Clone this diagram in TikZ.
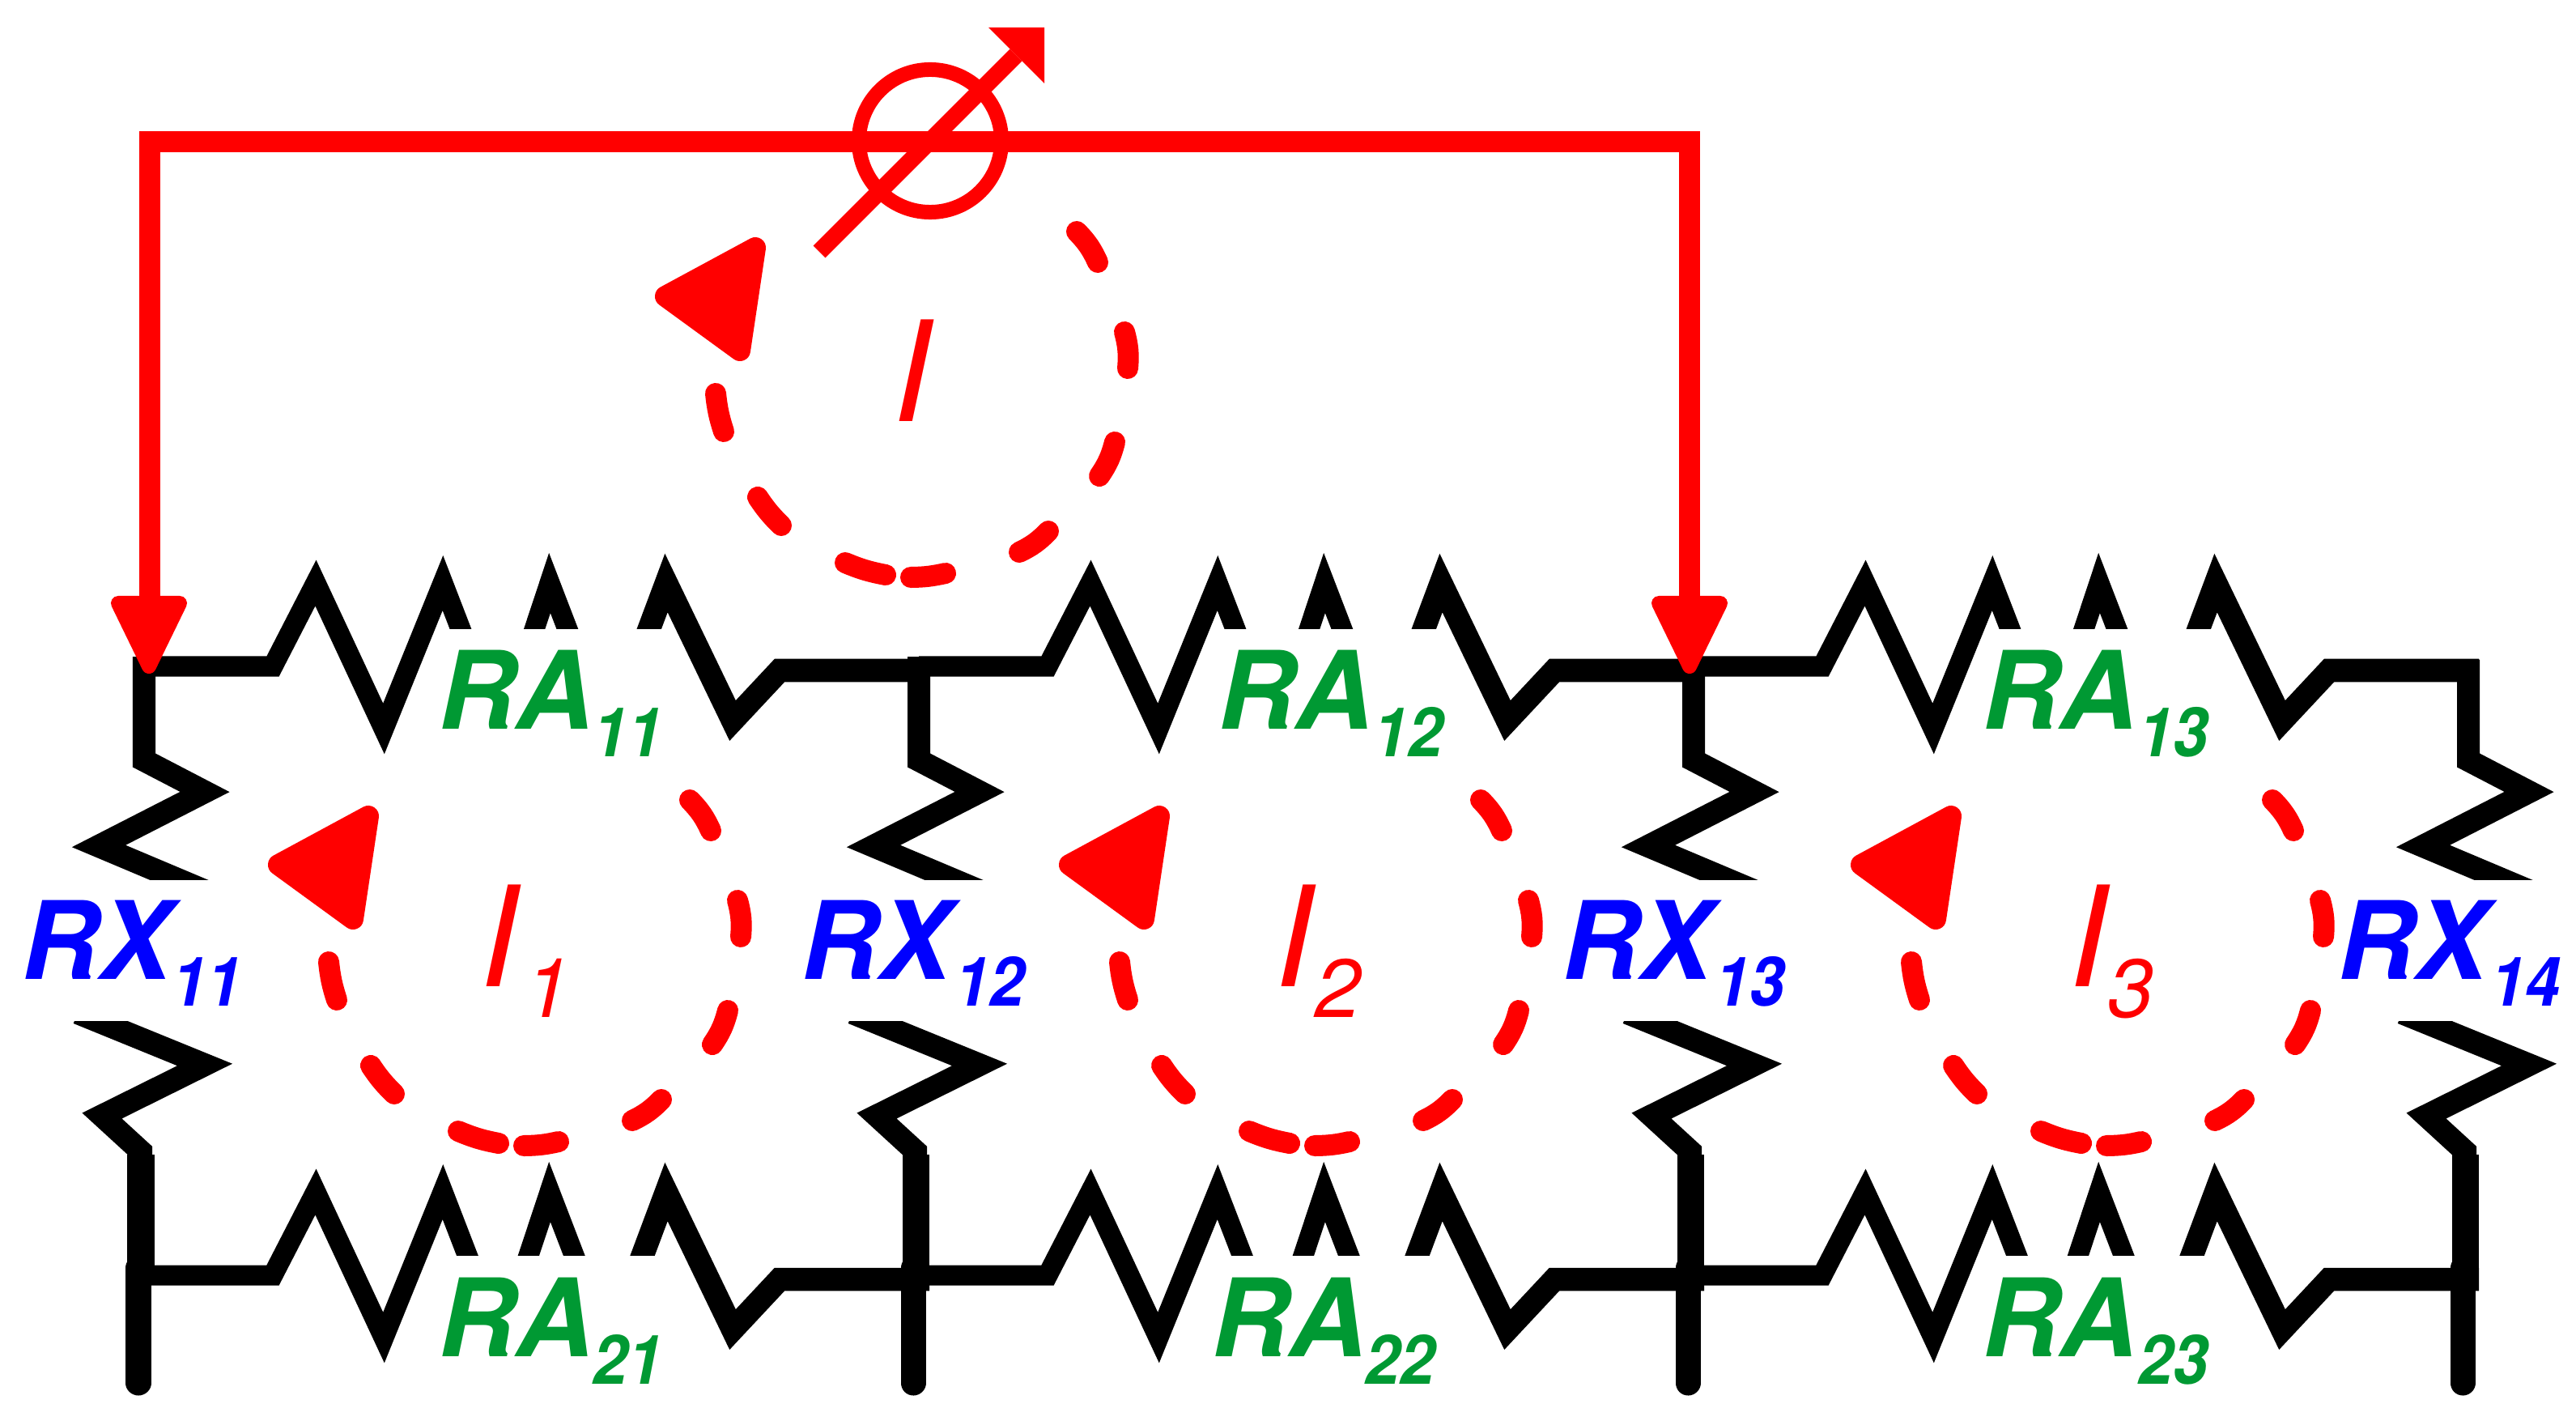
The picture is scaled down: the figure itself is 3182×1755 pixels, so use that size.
\documentclass[tikz,border=0pt]{standalone}
\usepackage{fontspec}
\setmainfont{TeX Gyre Heros}
\newfontfamily\subfont[FakeStretch=0.92]{TeX Gyre Heros}
\definecolor{gr}{HTML}{009933}
\definecolor{rd}{HTML}{FF0000}
\definecolor{bl}{HTML}{0000FF}
\newcommand{\fsRA}{\fontsize{38}{41}\selectfont\bfseries\itshape}
\newcommand{\fsSub}{\subfont\fontsize{24}{27}\selectfont\bfseries\itshape}
\newcommand{\fsI}{\fontsize{49}{52}\selectfont\itshape}
\newcommand{\fsIs}{\fontsize{29}{32}\selectfont\itshape}
\newcommand{\loopcirc}[2]{%
\begin{scope}[shift={(#1,#2)}]
\draw[dashseg] (852,988) to[bend left=10] (878,1026);
\draw[dashseg] (911,1112) to[bend left=10] (915,1157);
\draw[dashseg] (899,1248) to[bend left=10] (880,1290);
\draw[dashseg] (817,1358) to[bend left=10] (781,1384);
\draw[dashseg] (690,1410) to[bend left=6] (647,1415);
\draw[dashseg] (616,1412) to[bend left=6] (566,1397);
\draw[dashseg] (487,1351) to[bend left=6] (458,1316);
\draw[dashseg] (416,1235) to[bend left=6] (406,1188);
\fill[rd,draw=rd,line width=0.26cm,line join=round] (455,1008)--(344,1068)--(436,1135)--cycle;
\end{scope}}
\tikzset{
 wirea/.style={black,line width=0.25cm,miter limit=10},
 wireb/.style={black,line width=0.285cm,miter limit=10},
 rxa/.style={black,line width=0.28cm,miter limit=10},
 vert/.style={black,line width=0.33cm},
 stub/.style={black,line width=0.31cm,line cap=round},
 mask/.style={fill=white,draw=none},
 dashseg/.style={rd,line width=0.26cm,line cap=round},
 redwirev/.style={rd,line width=0.26cm,miter limit=10},
 lab/.style={anchor=base west,inner sep=0pt,outer sep=0pt},
 ralab/.style={lab,text=gr,font=\fsRA},
 rasub/.style={lab,text=gr,font=\fsSub},
 rxlab/.style={lab,text=bl,font=\fsRA},
 rxsub/.style={lab,text=bl,font=\fsSub},
 ilab/.style={lab,text=rd,font=\fsI},
 isub/.style={lab,text=rd,font=\fsIs},
}
\begin{document}
\begin{tikzpicture}[x=0.01cm,y=-0.01cm]
\useasboundingbox (0,0) rectangle (3182,1755);
% resistors of the top and bottom rows
\foreach \r in {0,752}{
\foreach \i in {0,1,2}{
\begin{scope}[shift={({\i*957},\r)}]
\draw[wirea] (178,823)--(337,823)--(390,720)--(474,900)--(547,720)--(618,904)--(679,720)--(752,910);
\draw[wireb] (752,910)--(823,720)--(905,890)--(963,828)--(1148,828);
\fill[mask] (548,{777+(\r>0?22:0)}) rectangle (826,{945+(\r>0?22:0)});
\end{scope}
}}
% vertical resistors
\foreach \i in {0,1,2,3}{
\begin{scope}[shift={({\i*957},0)}]
\draw[rxa] (178,{\i==3?814.5:811})--(178,939)--(253,978)--(122,1045)--(262,1104);
\draw[rxa] (96,1251)--(253,1315)--(126,1378)--(174,1422)--(174,1566);
\draw[vert] (174,1426)--(174,1566);
\fill[mask] (40,1087) rectangle (320,1261);
\draw[stub] (171,1566)--(171,1708);
\end{scope}
}
% current loops
\loopcirc{0}{0}
\loopcirc{977}{0}
\loopcirc{1955}{0}
\loopcirc{478}{-702}
% source branch
\coordinate (jl) at (185,745);
\coordinate (jr) at (2087,745);
\coordinate (tl) at (185,175);
\coordinate (tr) at (2087,175);
\draw[redwirev] (jl)--(tl)--(tr)--(jr);
\fill[rd,draw=rd,line width=0.18cm,line join=round] (146,745)--(222,745)--(184,823)--cycle;
\fill[rd,draw=rd,line width=0.18cm,line join=round] (2049,745)--(2125,745)--(2087,823)--cycle;
\node[circle,draw=rd,line width=0.18cm,minimum size=1.76cm,inner sep=0pt] (amm) at (1149,174) {};
\coordinate (astart) at (1012,311);
\coordinate (aend) at (1255,68);
\draw[rd,line width=0.21cm] (astart)--(aend);
\fill[rd] (1221,34)--(1290,34)--(1290,103)--cycle;
% labels
\node[ralab] (ra11) at (541,900) {RA};
\node[rasub] (s11) at (732,934) {11};
\node[ralab] (ra12) at (1504,900) {RA};
\node[rasub] (s12) at (1696,934) {12};
\node[ralab] (ra13) at (2448,900) {RA};
\node[rasub] (s13) at (2641,934) {13};
\node[ralab] (ra21) at (541,1675) {RA};
\node[rasub] (s21) at (732,1709) {21};
\node[ralab] (ra22) at (1496,1675) {RA};
\node[rasub] (s22) at (1686,1709) {22};
\node[ralab] (ra23) at (2448,1675) {RA};
\node[rasub] (s23) at (2641,1709) {23};
\node[rxlab] (rx1) at (26,1209) {RX};
\node[rxsub] (t11) at (212,1242) {11};
\node[rxlab] (rx2) at (989,1209) {RX};
\node[rxsub] (t12) at (1179,1242) {12};
\node[rxlab] (rx3) at (1929,1209) {RX};
\node[rxsub] (t13) at (2118,1242) {13};
\node[rxlab] (rx4) at (2887,1209) {RX};
\node[rxsub] (t14) at (3076,1242) {14};
\node[ilab] (i0) at (1102,521) {I};
\node[ilab] (i1) at (592,1218) {I};
\node[isub] (j1) at (648,1256) {1};
\node[ilab] (i2) at (1574,1218) {I};
\node[isub] (j2) at (1624,1256) {2};
\node[ilab] (i3) at (2555,1218) {I};
\node[isub] (j3) at (2603,1256) {3};
\end{tikzpicture}
\end{document}
